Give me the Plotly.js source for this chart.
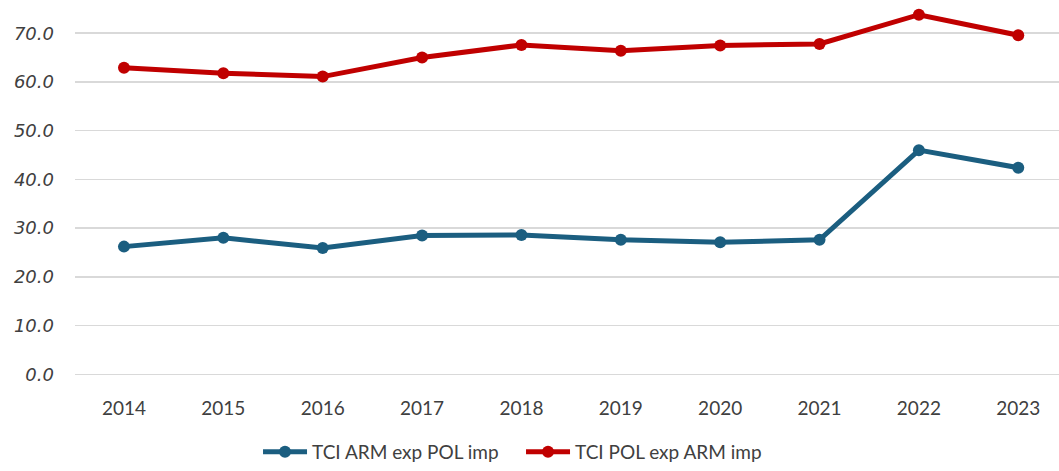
<!DOCTYPE html>
<html>
<head>
<meta charset="utf-8">
<script src="https://cdn.plot.ly/plotly-3.0.1.min.js"></script>
<style>html,body{margin:0;padding:0;background:#fff;}#chart{width:1059px;height:471px;}</style>
</head>
<body>
<div id="chart"></div>
<script>
const years = [2014, 2015, 2016, 2017, 2018, 2019, 2020, 2021, 2022, 2023];
const yearLabels = ["2014","2015","2016","2017","2018","2019","2020","2021","2022","2023"];
const armExpPolImp = [26.2, 28.0, 25.9, 28.5, 28.6, 27.6, 27.1, 27.6, 46.0, 42.4];
const polExpArmImp = [62.9, 61.8, 61.1, 65.0, 67.6, 66.4, 67.5, 67.8, 73.8, 69.6];
const yTicks = [0, 10, 20, 30, 40, 50, 60, 70];
const yTickLabels = ["0.0","10.0","20.0","30.0","40.0","50.0","60.0","70.0"];

const traces = [
  {x: years, y: armExpPolImp, name: "TCI ARM exp POL imp", type: "scatter", mode: "lines+markers",
   line: {color: "#1b5e80", width: 5}, marker: {color: "#1b5e80", size: 12}},
  {x: years, y: polExpArmImp, name: "TCI POL exp ARM imp", type: "scatter", mode: "lines+markers",
   line: {color: "#c00000", width: 5}, marker: {color: "#c00000", size: 12}}
];

const layout = {
  width: 1059, height: 471,
  margin: {l: 75, r: 0, t: 4, b: 85},
  paper_bgcolor: "#ffffff", plot_bgcolor: "#ffffff",
  font: {family: "Lato, 'Open Sans', sans-serif", color: "#404040"},
  showlegend: true,
  legend: {orientation: "h", x: 0.186, xanchor: "left", y: -0.18, yanchor: "middle",
           font: {size: 19, color: "#404040"}, itemwidth: 44, traceorder: "normal",
           entrywidth: 204, entrywidthmode: "pixels"},
  xaxis: {range: [2013.507, 2023.41], tickvals: years, ticktext: yearLabels, showgrid: false,
          zeroline: false, showline: false, ticks: "", ticklabelstandoff: 11,
          tickfont: {size: 19, color: "#404040"}},
  yaxis: {range: [-2, 76], tickvals: yTicks, ticktext: yTickLabels, showgrid: true,
          gridcolor: "#d9d9d9", gridwidth: 1.5, zeroline: false, showline: false, ticks: "",
          ticklabelstandoff: 20,
          tickfont: {family: "'DejaVu Sans', sans-serif", size: 18, color: "#404040", style: "italic"}}
};

Plotly.newPlot("chart", traces, layout, {displayModeBar: false, staticPlot: true});
</script>
</body>
</html>
